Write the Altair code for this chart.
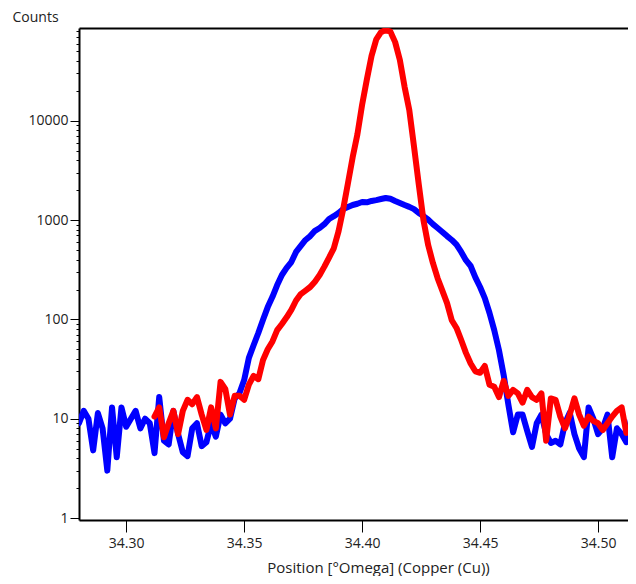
import altair as alt
import pandas as pd

# Scan positions (°Omega), 0.002 step
positions = [
    34.280, 34.282, 34.284, 34.286, 34.288, 34.290, 34.292, 34.294, 34.296, 34.298,
    34.300, 34.302, 34.304, 34.306, 34.308, 34.310, 34.312, 34.314, 34.316, 34.318,
    34.320, 34.322, 34.324, 34.326, 34.328, 34.330, 34.332, 34.334, 34.336, 34.338,
    34.340, 34.342, 34.344, 34.346, 34.348, 34.350, 34.352, 34.354, 34.356, 34.358,
    34.360, 34.362, 34.364, 34.366, 34.368, 34.370, 34.372, 34.374, 34.376, 34.378,
    34.380, 34.382, 34.384, 34.386, 34.388, 34.390, 34.392, 34.394, 34.396, 34.398,
    34.400, 34.402, 34.404, 34.406, 34.408, 34.410, 34.412, 34.414, 34.416, 34.418,
    34.420, 34.422, 34.424, 34.426, 34.428, 34.430, 34.432, 34.434, 34.436, 34.438,
    34.440, 34.442, 34.444, 34.446, 34.448, 34.450, 34.452, 34.454, 34.456, 34.458,
    34.460, 34.462, 34.464, 34.466, 34.468, 34.470, 34.472, 34.474, 34.476, 34.478,
    34.480, 34.482, 34.484, 34.486, 34.488, 34.490, 34.492, 34.494, 34.496, 34.498,
    34.500, 34.502, 34.504, 34.506, 34.508, 34.510, 34.512, 34.514, 34.516,
]

blue_counts = [
    9, 12, 10, 4.8, 11.4, 8, 3.0, 13, 4.1, 13,
    8.3, 10, 12, 8, 10, 9, 4.5, 16.5, 6, 5.5,
    12, 7, 4.6, 4.2, 8, 9, 5.3, 5.8, 9, 6.6,
    11, 9, 10, 16, 18, 24.5, 41, 55, 73, 99,
    133, 169, 222, 280, 330, 378, 478, 550, 631, 690,
    780, 832, 910, 1025, 1095, 1180, 1295, 1355, 1420, 1460,
    1520, 1510, 1560, 1590, 1630, 1670, 1640, 1560, 1490, 1420,
    1360, 1290, 1180, 1100, 1010, 910, 832, 760, 690, 631,
    565, 478, 395, 345, 265, 212, 164, 116, 78, 49,
    27.5, 13.8, 7.3, 11, 11, 7.5, 5.2, 9, 11, 7,
    5.7, 6, 5.5, 9, 11.5, 7, 5, 4.1, 13, 10,
    7, 8, 11, 4.1, 8, 7, 5.8, 10, 5.3,
]

red_positions = positions[16:117]
red_counts = [
    10.5, 13, 6.5, 9, 12, 7, 12, 15.5, 14, 16.5,
    11, 7.7, 13, 8, 23.5, 20, 11, 17, 17, 15.5,
    22, 27, 25, 39, 50, 60, 78, 90, 105, 125,
    155, 180, 195, 212, 240, 280, 340, 420, 520, 770,
    1300, 2350, 4300, 7300, 14500, 26000, 45000, 66000, 78000, 82000,
    79000, 62000, 41000, 22000, 12800, 5500, 2300, 1000, 560, 370,
    260, 195, 146, 98, 82, 62, 46, 36, 30, 29,
    34, 22, 21, 16.5, 24, 17, 19.5, 18, 14.5, 19.5,
    16.5, 15.5, 18, 6, 16, 15.5, 10.5, 8, 11, 16,
    11, 8.5, 10.5, 9.5, 9, 7.7, 9, 10.5, 12, 13,
    7.2,
]

assert len(positions) == len(blue_counts), (len(positions), len(blue_counts))
assert len(red_positions) == len(red_counts), (len(red_positions), len(red_counts))

x_ticks = [34.30, 34.35, 34.40, 34.45, 34.50]
decades = [1, 10, 100, 1000, 10000]
y_ticks = [m * d for d in decades for m in range(1, 10) if m * d <= 80000]

blue_df = pd.DataFrame({"x": positions, "counts": blue_counts})
red_df = pd.DataFrame({"x": red_positions, "counts": red_counts})

FONT = "Open Sans"
x_scale = alt.Scale(domain=[34.28, 34.5127], nice=False, zero=False)
y_scale = alt.Scale(type="log", domain=[0.955, 86000], nice=False)

y_axis = alt.Axis(
    values=y_ticks,
    format="d",
    labelExpr="indexof(['1','10','100','1000','10000'], datum.label) >= 0 ? datum.label : ''",
    tickSize={"condition": {"test": "indexof([1,10,100,1000,10000], datum.value) >= 0", "value": 9}, "value": 3},
    labelOverlap=False,
    labelFlush=False,
    labelPadding=2,
    labelFont=FONT,
    labelFontSize=14,
    labelColor="#222222",
    tickColor="black",
    tickWidth=1,
    domainColor="black",
    domainWidth=2,
    grid=False,
    title="Counts",
    titleAngle=0,
    titleAlign="left",
    titleBaseline="alphabetic",
    titleX=-67,
    titleY=-7,
    titleFont=FONT,
    titleFontSize=14,
    titleFontWeight="normal",
    titleColor="#222222",
)

x_axis_bottom = alt.Axis(
    values=x_ticks,
    format=".2f",
    tickSize=12,
    tickWidth=1,
    tickColor="black",
    labelPadding=4,
    labelFlush=False,
    labelFont=FONT,
    labelFontSize=14,
    labelColor="#222222",
    domainColor="black",
    domainWidth=2,
    grid=False,
    title="Position [°Omega] (Copper (Cu))",
    titleFont=FONT,
    titleFontSize=15,
    titleFontWeight="normal",
    titleColor="#222222",
    titleX=299,
    titleY=52,
    titleAlign="center",
    titleBaseline="alphabetic",
)

x_axis_top = alt.Axis(
    orient="top", labels=False, ticks=False, title=None, grid=False,
    domainColor="black", domainWidth=2,
)

Y = alt.Y("counts:Q", scale=y_scale, axis=y_axis)

blue = alt.Chart(blue_df).mark_line(
    color="#0000FF", strokeWidth=6, clip=True, strokeCap="round", strokeJoin="round"
).encode(x=alt.X("x:Q", scale=x_scale, axis=x_axis_bottom), y=Y)

red = alt.Chart(red_df).mark_line(
    color="#FF0000", strokeWidth=6, clip=True, strokeCap="round", strokeJoin="round"
).encode(x=alt.X("x:Q", scale=x_scale, axis=None), y=Y)

frame_top = alt.Chart(blue_df).mark_line(opacity=0, clip=True).encode(
    x=alt.X("x:Q", scale=x_scale, axis=x_axis_top), y=Y
)

chart = (
    alt.layer(blue, red, frame_top)
    .resolve_axis(x="independent")
    .properties(
        width=549,
        height=492,
        autosize="none",
        padding={"left": 71, "top": 20, "right": 0, "bottom": 56},
        background="white",
    )
    .configure_view(stroke=None)
)

chart.save("out.html", embed_options={"renderer": "svg", "actions": False})
